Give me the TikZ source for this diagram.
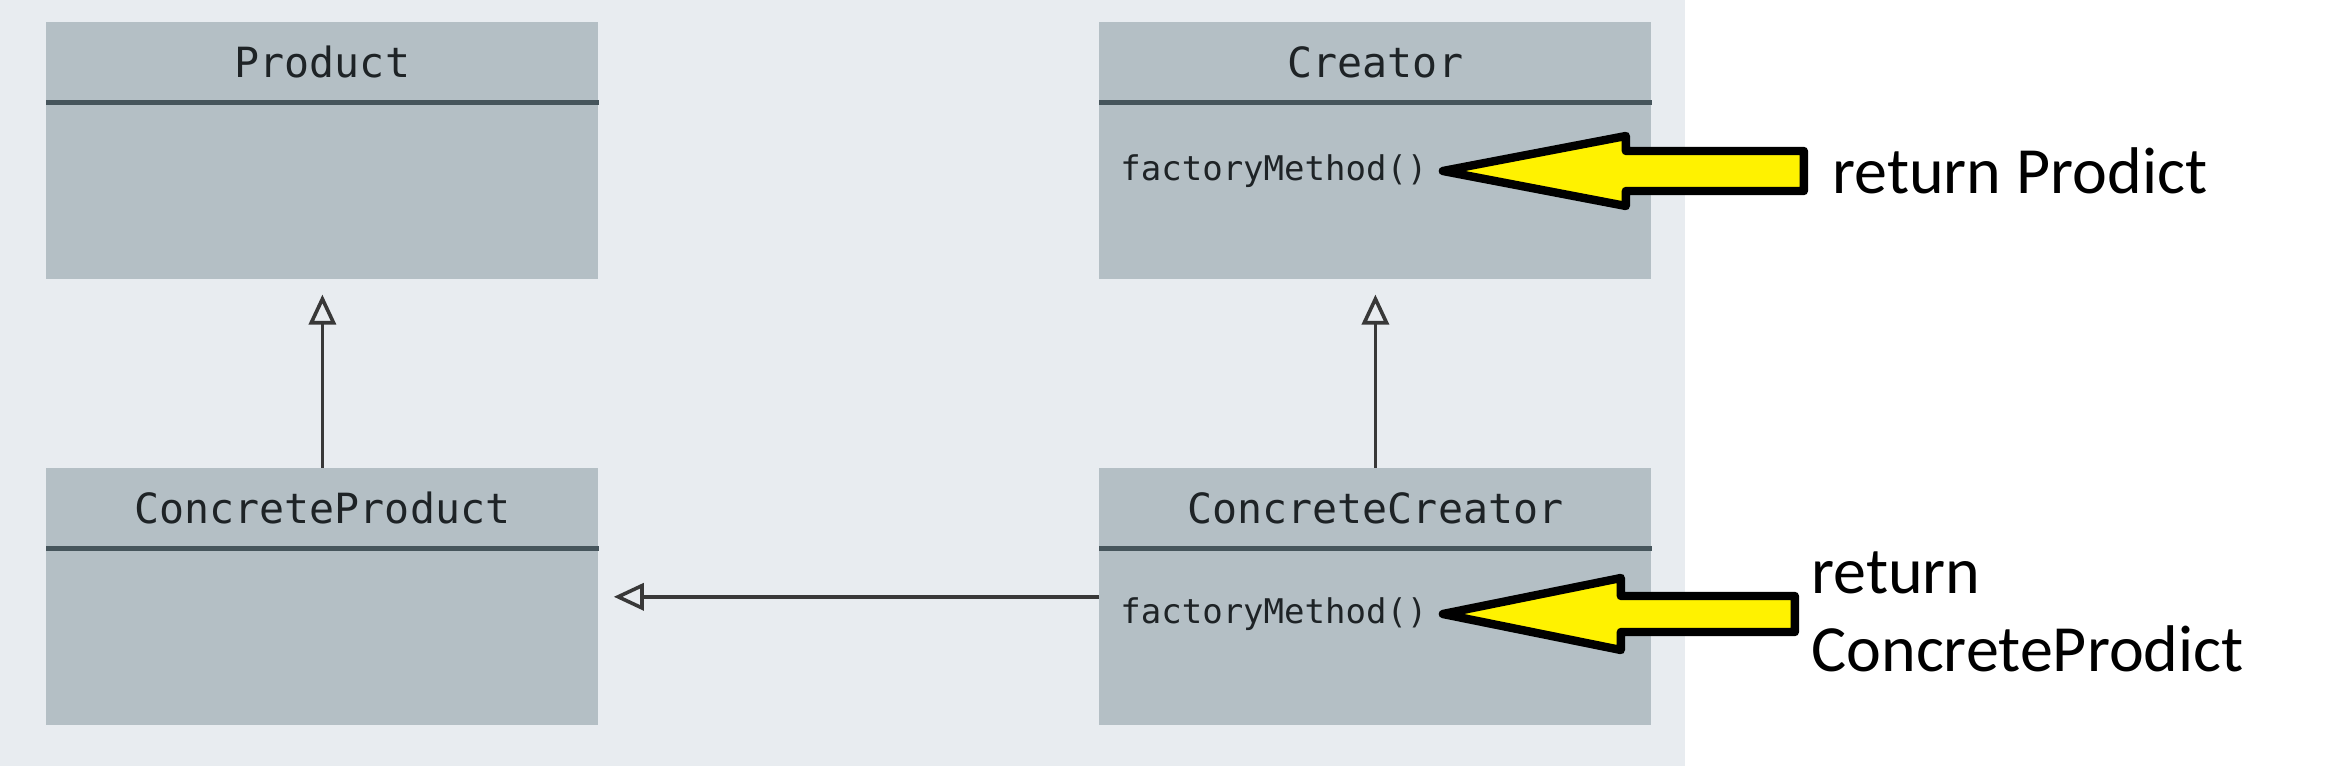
\documentclass[tikz,border=0pt]{standalone}
\usepackage{fontspec}
\usetikzlibrary{arrows.meta}
\newfontfamily\monof{DejaVu Sans Mono}
\newfontfamily\calib{Carlito}
\definecolor{panel}{HTML}{E8ECF0}
\definecolor{boxfill}{HTML}{B4BFC5}
\definecolor{sepcol}{HTML}{46555C}
\definecolor{linecol}{HTML}{383838}
\definecolor{txtcol}{HTML}{1E2326}
\definecolor{yel}{HTML}{FFF200}
\begin{document}
\begin{tikzpicture}[x=0.5pt,y=-0.5pt,
  head/.style={fill=boxfill, draw=none, minimum width=276pt, minimum height=40pt, inner sep=0pt, anchor=north west, font=\monof\fontsize{20.8}{24}\selectfont, text=txtcol},
  body/.style={fill=boxfill, draw=none, minimum width=276pt, minimum height=88pt, inner sep=0pt, anchor=north},
  sepline/.style={draw=sepcol, line width=2.4pt},
  method/.style={anchor=west, inner sep=0pt, font=\monof\fontsize{17}{20}\selectfont, text=txtcol},
  inherit/.style={draw=linecol, line width=1.8pt, -{Triangle[open, length=15pt, width=13.5pt]}},
  blockarrow/.style={draw=black, fill=yel, line width=4.2pt, line join=round},
  lbl/.style={inner sep=0pt, font=\calib\fontsize{33}{39}\selectfont, text=black}
]
\useasboundingbox (0,0) rectangle (2332,774);
\fill[white] (0,0) rectangle (2332,774);
\fill[panel] (0,0) rectangle (1685,766);

% Product
\node[head] (ph) at (46,22) {Product};
\node[body] (pb) at (ph.south) {};
\draw[sepline] (ph.south west) -- (ph.south east);

% Creator
\node[head] (crh) at (1099,22) {Creator};
\node[body] (crb) at (crh.south) {};
\draw[sepline] (crh.south west) -- (crh.south east);
\node[method] (fm1) at (1120,171) {factoryMethod()};

% ConcreteProduct
\node[head] (cph) at (46,468) {ConcreteProduct};
\node[body] (cpb) at (cph.south) {};
\draw[sepline] (cph.south west) -- (cph.south east);

% ConcreteCreator
\node[head] (cch) at (1099,468) {ConcreteCreator};
\node[body] (ccb) at (cch.south) {};
\draw[sepline] (cch.south west) -- (cch.south east);
\node[method] (fm2) at (1120,614) {factoryMethod()};

% inheritance
\draw[inherit] (cph.north) -- ([yshift=-7.5pt]pb.south);
\draw[inherit] (cch.north) -- ([yshift=-7.5pt]crb.south);
\draw[inherit] ([yshift=-24pt]ccb.north west) -- ([xshift=7.5pt,yshift=-24pt]cpb.north east);

% yellow arrows
\coordinate (t1) at ([xshift=7.5pt]fm1.east);
\draw[blockarrow] (t1) -- ++(183,-35) -- ++(0,15) -- ++(178,0) -- ++(0,40) -- ++(-178,0) -- ++(0,15) -- cycle;
\coordinate (t2) at ([xshift=7.5pt]fm2.east);
\draw[blockarrow] (t2) -- ++(178,-36) -- ++(0,18) -- ++(174,0) -- ++(0,36) -- ++(-174,0) -- ++(0,18) -- cycle;

% labels
\node[lbl, anchor=west] (r1) at (1832,171) {return Prodict};
\node[lbl, anchor=west, align=left] (r2) at (1811,612) {return\\ConcreteProdict};
\end{tikzpicture}
\end{document}
